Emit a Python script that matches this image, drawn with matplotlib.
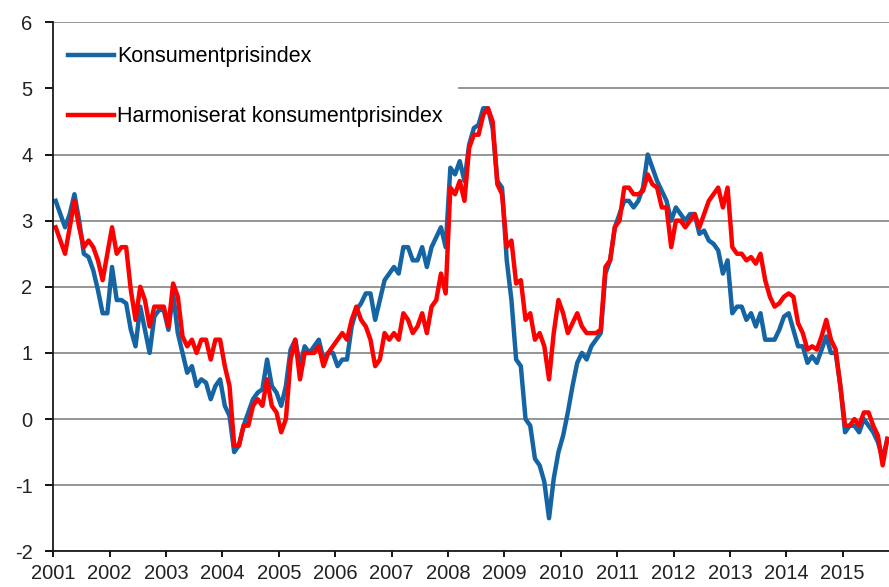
import matplotlib
matplotlib.use("Agg")
import matplotlib.pyplot as plt
import numpy as np

plt.rcParams['font.family'] = ['Liberation Sans', 'DejaVu Sans']
plt.rcParams['axes.unicode_minus'] = False

# monthly annual change, %, Jan 2001 - Oct 2015
years = [str(y) for y in range(2001, 2016)]

kpi = [
    3.3, 3.1, 2.9, 3.1, 3.4, 3.0, 2.5, 2.45, 2.25, 1.95, 1.6, 1.6,      # 2001
    2.3, 1.8, 1.8, 1.75, 1.35, 1.1, 1.7, 1.35, 1.0, 1.55, 1.65, 1.65,   # 2002
    1.35, 1.9, 1.3, 1.0, 0.7, 0.8, 0.5, 0.6, 0.55, 0.3, 0.5, 0.6,       # 2003
    0.2, 0.05, -0.5, -0.4, -0.1, 0.1, 0.3, 0.4, 0.45, 0.9, 0.5, 0.4,    # 2004
    0.2, 0.5, 1.05, 1.2, 0.8, 1.1, 1.0, 1.1, 1.2, 0.9, 1.0, 1.0,        # 2005
    0.8, 0.9, 0.9, 1.4, 1.65, 1.75, 1.9, 1.9, 1.5, 1.8, 2.1, 2.2,       # 2006
    2.3, 2.2, 2.6, 2.6, 2.4, 2.4, 2.6, 2.3, 2.6, 2.75, 2.9, 2.6,        # 2007
    3.8, 3.7, 3.9, 3.6, 4.15, 4.4, 4.45, 4.7, 4.7, 4.4, 3.6, 3.5,       # 2008
    2.4, 1.8, 0.9, 0.8, 0.0, -0.1, -0.6, -0.7, -0.95, -1.5, -0.9, -0.5, # 2009
    -0.25, 0.1, 0.5, 0.85, 1.0, 0.9, 1.1, 1.2, 1.3, 2.2, 2.4, 2.9,      # 2010
    3.1, 3.3, 3.3, 3.2, 3.3, 3.5, 4.0, 3.8, 3.6, 3.45, 3.3, 3.0,        # 2011
    3.2, 3.1, 3.0, 3.1, 3.1, 2.8, 2.85, 2.7, 2.65, 2.55, 2.2, 2.4,      # 2012
    1.6, 1.7, 1.7, 1.5, 1.6, 1.4, 1.6, 1.2, 1.2, 1.2, 1.35, 1.55,       # 2013
    1.6, 1.35, 1.1, 1.1, 0.85, 0.95, 0.85, 1.05, 1.25, 1.0, 1.0, 0.5,   # 2014
    -0.2, -0.1, -0.1, -0.2, 0.0, -0.1, -0.2, -0.35, -0.6, -0.3,         # 2015
]

hkpi = [
    2.9, 2.7, 2.5, 2.9, 3.3, 2.9, 2.6, 2.7, 2.6, 2.4, 2.1, 2.5,         # 2001
    2.9, 2.5, 2.6, 2.6, 1.95, 1.5, 2.0, 1.8, 1.4, 1.7, 1.7, 1.7,        # 2002
    1.4, 2.05, 1.85, 1.25, 1.1, 1.2, 1.0, 1.2, 1.2, 0.9, 1.2, 1.2,      # 2003
    0.8, 0.5, -0.4, -0.4, -0.1, -0.1, 0.2, 0.3, 0.2, 0.6, 0.2, 0.1,     # 2004
    -0.2, 0.0, 0.9, 1.2, 0.6, 1.0, 1.0, 1.0, 1.1, 0.8, 1.0, 1.1,        # 2005
    1.2, 1.3, 1.2, 1.5, 1.7, 1.5, 1.4, 1.2, 0.8, 0.9, 1.3, 1.2,         # 2006
    1.3, 1.2, 1.6, 1.5, 1.3, 1.4, 1.6, 1.3, 1.7, 1.8, 2.2, 1.9,         # 2007
    3.5, 3.4, 3.6, 3.3, 4.1, 4.3, 4.3, 4.6, 4.7, 4.5, 3.55, 3.4,        # 2008
    2.6, 2.7, 2.05, 2.1, 1.5, 1.6, 1.2, 1.3, 1.1, 0.6, 1.3, 1.8,        # 2009
    1.6, 1.3, 1.45, 1.6, 1.4, 1.3, 1.3, 1.3, 1.35, 2.3, 2.4, 2.9,       # 2010
    3.0, 3.5, 3.5, 3.4, 3.4, 3.45, 3.7, 3.55, 3.5, 3.2, 3.2, 2.6,       # 2011
    3.0, 3.0, 2.9, 3.0, 3.1, 2.9, 3.1, 3.3, 3.4, 3.5, 3.2, 3.5,         # 2012
    2.6, 2.5, 2.5, 2.4, 2.45, 2.35, 2.5, 2.1, 1.85, 1.7, 1.75, 1.85,    # 2013
    1.9, 1.85, 1.45, 1.3, 1.05, 1.1, 1.05, 1.25, 1.5, 1.2, 1.05, 0.5,   # 2014
    -0.1, -0.1, 0.0, -0.1, 0.1, 0.1, -0.1, -0.25, -0.7, -0.3,           # 2015
]

fig = plt.figure(figsize=(8.89, 5.87), dpi=100)
ax = fig.add_axes([53.3 / 889, 35.7 / 587, (889 - 53.3) / 889, 529 / 587])

x = np.arange(len(kpi))
ax.plot(x, kpi, color='#1565a5', lw=3.2, label='Konsumentprisindex')
ax.plot(x, hkpi, color='#ff0000', lw=3.2, label='Harmoniserat konsumentprisindex')

ax.set_xlim(-0.5, 177.35)
ax.set_ylim(-2, 6)
ax.set_yticks(range(-2, 7))
ax.set_xticks([-0.5 + 12 * k for k in range(len(years))])
ax.set_xticklabels(years)

ax.yaxis.grid(True, color='#8c8c8c', lw=1.3)
ax.set_axisbelow(True)
for s in ['top', 'right']:
    ax.spines[s].set_visible(False)
for s in ['left', 'bottom']:
    ax.spines[s].set_color('#1a1a1a')
    ax.spines[s].set_linewidth(1.3)
    ax.spines[s].set_zorder(6)

ax.tick_params(axis='y', direction='out', length=6, width=1.3, pad=9,
               labelsize=14.5, labelcolor='#222222')
ax.tick_params(axis='x', direction='out', length=4, width=1.3, pad=5,
               labelsize=14.5, labelcolor='#222222')

leg = ax.legend(loc='upper left', bbox_to_anchor=(0, 0.983), frameon=True,
                facecolor='white', edgecolor='none', framealpha=1, fancybox=False,
                fontsize=15.5, handlelength=2.1, handletextpad=0.15,
                labelspacing=1.8, borderaxespad=0, borderpad=0.7)
leg.set_zorder(5)

fig.savefig('out.png', dpi=100)
